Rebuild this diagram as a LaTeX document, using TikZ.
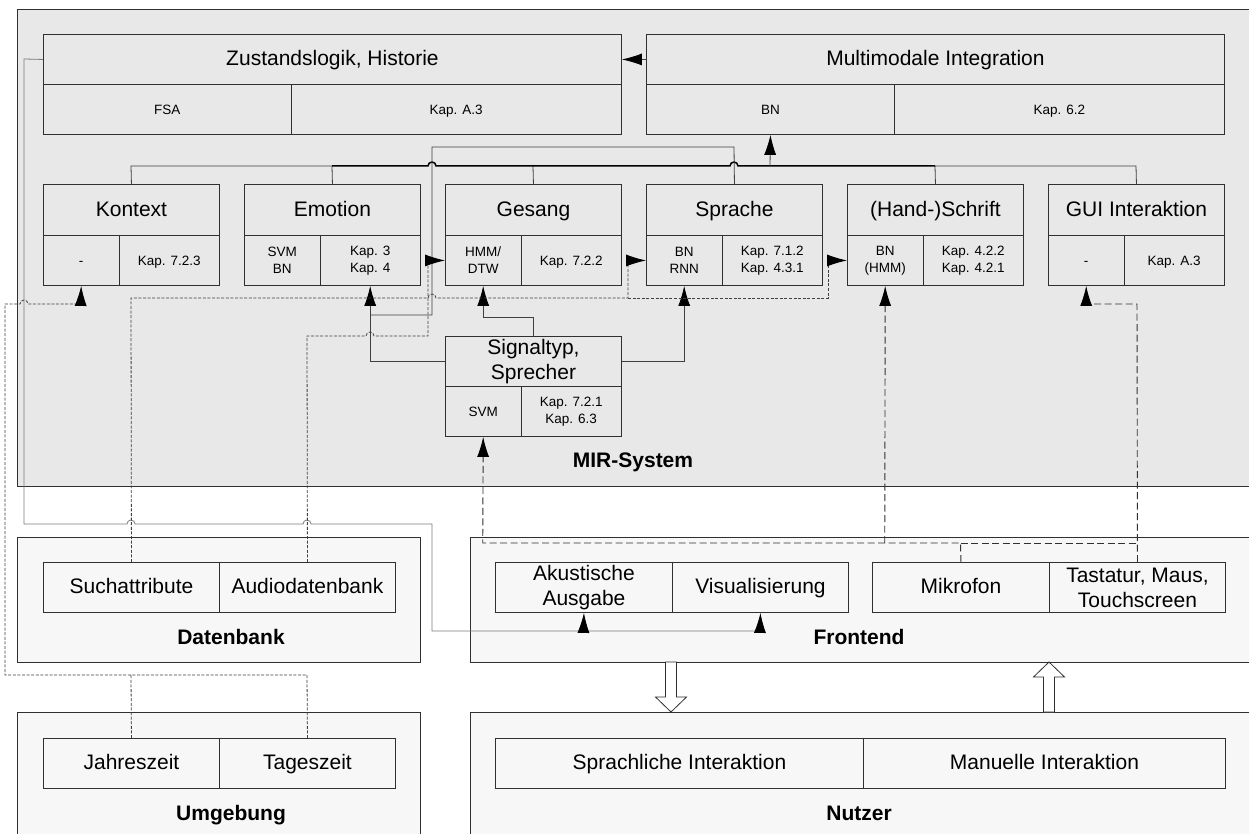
\documentclass[tikz,border=0pt]{standalone}
\usepackage{fontspec}
\setmainfont{Liberation Sans}
\usetikzlibrary{arrows.meta}
\definecolor{mirfill}{HTML}{E8E8E8}
\definecolor{extfill}{HTML}{F7F7F7}
\definecolor{bcol}{HTML}{303030}
\definecolor{lcol}{HTML}{404040}
\definecolor{gcol}{HTML}{7A7A7A}
\begin{document}
\begin{tikzpicture}[x=1pt,y=-1pt,
  cell/.style={draw=bcol, line width=0.9pt, inner sep=0pt, align=center, anchor=north west},
  tcell/.style={cell, font=\fontsize{21}{25}\selectfont},
  tcell1/.style={tcell, text height=16pt, text depth=3.5pt},
  scell/.style={cell, font=\fontsize{13.5}{17}\selectfont},
  scell1/.style={scell, text height=11pt, text depth=1pt},
  outer/.style={draw=bcol, line width=0.9pt, inner sep=0pt, anchor=north west},
  lbl/.style={font=\fontsize{21}{25}\selectfont\bfseries, text height=15pt, text depth=0pt, inner sep=0pt},
  conn/.style={draw=lcol, line width=0.8pt},
  bus/.style={draw=black, line width=1.5pt},
  gline/.style={draw=gcol, line width=0.8pt},
  fdash/.style={draw=lcol, line width=0.8pt, dash pattern=on 3pt off 1.6pt},
  mdash/.style={draw=bcol, line width=0.9pt, dash pattern=on 7pt off 3.5pt},
  arr/.style={-{Latex[length=20pt,width=12pt,color=black,fill=black]}},
  hollow/.style={draw=bcol, line width=0.8pt, fill=white}]
\useasboundingbox (0,0) rectangle (1249,834);
\fill[white] (0,0) rectangle (1249,834);
% outer containers
\node[outer, fill=mirfill, minimum width=1240pt, minimum height=477pt] (mir) at (17,9) {};
\node[lbl] (mirl) at (633,460) {MIR-System};
\node[outer, fill=extfill, minimum width=403pt, minimum height=125pt] (db) at (17,537) {};
\node[outer, fill=extfill, minimum width=403pt, minimum height=140pt] (um) at (17,712) {};
\node[outer, fill=extfill, minimum width=790pt, minimum height=125pt] (fr) at (470,537) {};
\node[outer, fill=extfill, minimum width=790pt, minimum height=140pt] (nu) at (470,712) {};
\node[lbl] (dbl) at (231,637) {Datenbank};
\node[lbl] (uml) at (231,812.5) {Umgebung};
\node[lbl] (frl) at (859,637) {Frontend};
\node[lbl] (nul) at (859,812.5) {Nutzer};
% top modules
\node[tcell1, minimum width=578pt, minimum height=50pt] (zt) at (43,34) {Zustandslogik, Historie};
\node[scell1, minimum width=247.5pt, minimum height=50pt] (za) at (43,84) {FSA};
\node[scell1, minimum width=330.5pt, minimum height=50pt] (zb) at (290.5,84) {Kap. A.3};
\node[tcell1, minimum width=578pt, minimum height=50pt] (mt) at (646,34) {Multimodale Integration};
\node[scell1, minimum width=248pt, minimum height=50pt] (ma) at (646,84) {BN};
\node[scell1, minimum width=330pt, minimum height=50pt] (mb) at (894,84) {Kap. 6.2};
% row of classifiers
\node[tcell1, minimum width=176pt, minimum height=51pt] (kt) at (43,184) {Kontext};
\node[scell1, minimum width=75.5pt, minimum height=50pt] (ka) at (43,235) {-};
\node[scell1, minimum width=100.5pt, minimum height=50pt] (kb) at (118.5,235) {Kap. 7.2.3};
\node[tcell1, minimum width=176pt, minimum height=51pt] (et) at (244,184) {Emotion};
\node[scell, minimum width=75.5pt, minimum height=50pt] (ea) at (244,235) {SVM\\BN};
\node[scell, minimum width=100.5pt, minimum height=50pt] (eb) at (319.5,235) {Kap. 3\\Kap. 4};
\node[tcell1, minimum width=176pt, minimum height=51pt] (gt) at (445,184) {Gesang};
\node[scell, minimum width=75.5pt, minimum height=50pt] (ga) at (445,235) {HMM/\\DTW};
\node[scell1, minimum width=100.5pt, minimum height=50pt] (gb) at (520.5,235) {Kap. 7.2.2};
\node[tcell1, minimum width=176pt, minimum height=51pt] (st) at (646,184) {Sprache};
\node[scell, minimum width=75.5pt, minimum height=50pt] (sa) at (646,235) {BN\\RNN};
\node[scell, minimum width=100.5pt, minimum height=50pt] (sb) at (721.5,235) {Kap. 7.1.2\\Kap. 4.3.1};
\node[tcell1, minimum width=176pt, minimum height=51pt] (ht) at (847,184) {(Hand-)Schrift};
\node[scell, minimum width=75.5pt, minimum height=50pt] (ha) at (847,235) {BN\\(HMM)};
\node[scell, minimum width=100.5pt, minimum height=50pt] (hb) at (922.5,235) {Kap. 4.2.2\\Kap. 4.2.1};
\node[tcell1, minimum width=176pt, minimum height=51pt] (ut) at (1048,184) {GUI Interaktion};
\node[scell1, minimum width=75.5pt, minimum height=50pt] (ua) at (1048,235) {-};
\node[scell1, minimum width=100.5pt, minimum height=50pt] (ub) at (1123.5,235) {Kap. A.3};
% Signaltyp
\node[tcell, minimum width=176pt, minimum height=50pt] (sgt) at (445,336) {Signaltyp,\\Sprecher};
\node[scell1, minimum width=75.5pt, minimum height=50pt] (sga) at (445,386) {SVM};
\node[scell, minimum width=100.5pt, minimum height=50pt] (sgb) at (520.5,386) {Kap. 7.2.1\\Kap. 6.3};
% lower cells
\node[tcell1, minimum width=176pt, minimum height=50pt] (da) at (43,562) {Suchattribute};
\node[tcell1, minimum width=176pt, minimum height=50pt] (dbb) at (219,562) {Audiodatenbank};
\node[tcell1, minimum width=176pt, minimum height=50pt] (ja) at (43,738) {Jahreszeit};
\node[tcell1, minimum width=176pt, minimum height=50pt] (ta) at (219,738) {Tageszeit};
\node[tcell, minimum width=177pt, minimum height=50pt] (fa) at (495,562) {Akustische\\Ausgabe};
\node[tcell1, minimum width=176pt, minimum height=50pt] (fb) at (672,562) {Visualisierung};
\node[tcell1, minimum width=177pt, minimum height=50pt] (fc) at (872,562) {Mikrofon};
\node[tcell, minimum width=176pt, minimum height=50pt] (fd) at (1049,562) {Tastatur, Maus,\\Touchscreen};
\node[tcell1, minimum width=368pt, minimum height=50pt] (na) at (495,738) {Sprachliche Interaktion};
\node[tcell1, minimum width=362pt, minimum height=50pt] (nb) at (863,738) {Manuelle Interaktion};
% bus to Multimodale Integration
\draw[conn] (kt.north) -- (131,166) -- (332,166);
\draw[conn] (et.north) -- (332,166);
\draw[conn] (gt.north) -- (533,166);
\draw[conn] (ht.north) -- (935,166) -- (1136,166) -- (ut.north);
\draw[bus] (332,166) -- (428,166) arc[start angle=180,end angle=0,radius=4pt] -- (730,166) arc[start angle=180,end angle=0,radius=4pt] -- (935,166);
\draw[conn,arr] (770,166) -- (ma.south);
\draw[conn,arr] (mt.west) -- (zt.east);
% Sprache -> Emotion, Signaltyp -> classifiers
\draw[conn] (st.north) -- (734,147) -- (432,147) -- (432,315) -- (370.25,315);
\draw[conn,arr] (sgt.west) -| (eb.south);
\draw[conn,arr] (sgt.north) -- ++(0,-19) -| (ga.south);
\draw[conn,arr] (sgt.east) -| (sa.south);
% Zustandslogik -> Frontend
\draw[gline,arr] (zt.west) -- (24,59) -- (24,524) -- (127,524) arc[start angle=180,end angle=0,radius=4pt] -- (303,524) arc[start angle=180,end angle=0,radius=4pt] -- (432,524) -- (432,631) -- (760,631) -- (fb.south);
\draw[gline,arr] (583.5,631) -- (fa.south);
% Umgebung -> Kontext
\draw[fdash,arr] (ta.north) -- (307,675) -- (5,675) -- (5,304) -- (20,304) arc[start angle=180,end angle=0,radius=4pt] -- (80.75,304) -- (ka.south);
\draw[fdash] (ja.north) -- (131,675);
% Datenbank
\draw[fdash,arr] (da.north) -- (131,298) -- (428,298) arc[start angle=180,end angle=0,radius=4pt] -- (628,298) |- (sa.west);
\draw[fdash,arr] (628,298) -- (828,298) |- (ha.west);
\draw[fdash,arr] (dbb.north) -- (307,336) -- (366,336) arc[start angle=180,end angle=0,radius=4pt] -- (428,336) |- (ga.west);
% Frontend inputs
\draw[mdash,arr] (fc.north) -- (960.5,543) -- (482.75,543) -- (sga.south);
\draw[mdash,arr] (884.75,543) -- (ha.south);
\draw[mdash] (960.5,543) -- (1137,543);
\draw[mdash,arr] (fd.north) -- (1137,304) -| (ua.south);
% hollow arrows Frontend <-> Nutzer
\draw[hollow] (665.5,662) -- (676.5,662) -- (676.5,697) -- (686.5,697) -- (671,712) -- (655.5,697) -- (665.5,697) -- cycle;
\draw[hollow] (1043.5,712) -- (1054.5,712) -- (1054.5,677) -- (1064.5,677) -- (1049,662) -- (1033.5,677) -- (1043.5,677) -- cycle;
\end{tikzpicture}
\end{document}
